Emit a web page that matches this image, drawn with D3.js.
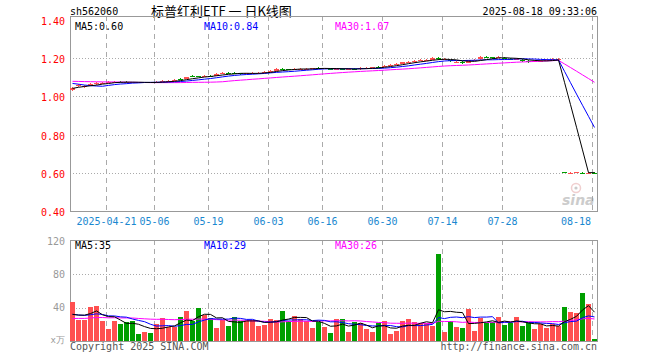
<!DOCTYPE html>
<html><head><meta charset="utf-8">
<script src="https://cdn.jsdelivr.net/npm/d3@7/dist/d3.min.js"></script>
<style>
html,body{margin:0;padding:0;background:#fff;}
svg{display:block;}
text{font-family:"DejaVu Sans Mono",monospace;font-size:10px;}
</style></head><body>
<svg id="c" width="660" height="360"></svg>
<script>
// ---------- data ----------
const dates = [
"2025-04-11","2025-04-14","2025-04-15","2025-04-16","2025-04-17","2025-04-18",
"2025-04-21","2025-04-22","2025-04-23","2025-04-24","2025-04-25",
"2025-04-28","2025-04-29","2025-04-30",
"2025-05-06","2025-05-07","2025-05-08","2025-05-09",
"2025-05-12","2025-05-13","2025-05-14","2025-05-15","2025-05-16",
"2025-05-19","2025-05-20","2025-05-21","2025-05-22","2025-05-23",
"2025-05-26","2025-05-27","2025-05-28","2025-05-29","2025-05-30",
"2025-06-03","2025-06-04","2025-06-05","2025-06-06",
"2025-06-09","2025-06-10","2025-06-11","2025-06-12","2025-06-13",
"2025-06-16","2025-06-17","2025-06-18","2025-06-19","2025-06-20",
"2025-06-23","2025-06-24","2025-06-25","2025-06-26","2025-06-27",
"2025-06-30","2025-07-01","2025-07-02","2025-07-03","2025-07-04",
"2025-07-07","2025-07-08","2025-07-09","2025-07-10","2025-07-11",
"2025-07-14","2025-07-15","2025-07-16","2025-07-17","2025-07-18",
"2025-07-21","2025-07-22","2025-07-23","2025-07-24","2025-07-25",
"2025-07-28","2025-07-29","2025-07-30","2025-07-31","2025-08-01",
"2025-08-04","2025-08-05","2025-08-06","2025-08-07","2025-08-08",
"2025-08-11","2025-08-12","2025-08-13","2025-08-14","2025-08-15",
"2025-08-18"];

const opens = [
1.035,1.052,1.050,1.058,1.065,1.069,1.072,1.075,1.077,1.076,
1.075,1.074,1.072,1.074,1.073,1.077,1.080,1.083,1.092,1.092,
1.107,1.106,1.105,1.107,1.108,1.122,1.124,1.122,1.120,1.118,
1.120,1.121,1.122,1.130,1.134,1.146,1.143,1.140,1.143,1.144,
1.145,1.150,1.145,1.145,1.143,1.145,1.144,1.146,1.142,1.148,
1.150,1.155,1.155,1.160,1.166,1.172,1.178,1.180,1.186,1.189,
1.192,1.202,1.193,1.190,1.178,1.180,1.177,1.188,1.195,1.206,
1.205,1.204,1.200,1.197,1.195,1.192,1.184,1.181,1.184,1.186,
1.193,1.195,0.602,0.600,0.601,0.601,0.600,0.601];

const highs = [
1.050,1.064,1.060,1.068,1.074,1.076,1.079,1.081,1.080,1.079,
1.078,1.077,1.078,1.078,1.079,1.084,1.086,1.090,1.095,1.104,
1.110,1.109,1.112,1.110,1.121,1.130,1.128,1.126,1.123,1.124,
1.126,1.127,1.133,1.137,1.148,1.150,1.146,1.147,1.149,1.150,
1.151,1.154,1.151,1.149,1.149,1.150,1.150,1.149,1.152,1.154,
1.156,1.159,1.164,1.170,1.176,1.182,1.185,1.189,1.194,1.196,
1.204,1.207,1.200,1.193,1.185,1.184,1.191,1.195,1.209,1.210,
1.208,1.211,1.204,1.201,1.201,1.195,1.188,1.188,1.191,1.195,
1.199,1.200,0.604,0.604,0.605,0.604,0.604,0.603];

const lows = [
1.030,1.049,1.046,1.055,1.062,1.066,1.069,1.072,1.072,1.071,
1.070,1.069,1.069,1.068,1.070,1.075,1.078,1.080,1.086,1.089,
1.101,1.100,1.102,1.101,1.105,1.119,1.118,1.116,1.114,1.115,
1.117,1.118,1.120,1.127,1.132,1.140,1.136,1.137,1.140,1.141,
1.142,1.144,1.142,1.138,1.140,1.139,1.141,1.136,1.140,1.145,
1.147,1.149,1.152,1.157,1.163,1.169,1.175,1.177,1.183,1.186,
1.190,1.193,1.189,1.179,1.175,1.172,1.175,1.185,1.192,1.199,
1.196,1.200,1.194,1.190,1.192,1.182,1.176,1.178,1.181,1.183,
1.190,1.192,0.597,0.598,0.599,0.597,0.598,0.598];

const closes = [
1.045,1.060,1.055,1.065,1.070,1.072,1.075,1.077,1.075,1.074,
1.073,1.072,1.074,1.072,1.075,1.080,1.082,1.086,1.090,1.100,
1.105,1.104,1.108,1.105,1.118,1.125,1.122,1.120,1.118,1.120,
1.122,1.123,1.130,1.133,1.145,1.144,1.140,1.142,1.145,1.146,
1.147,1.148,1.147,1.142,1.145,1.143,1.146,1.140,1.148,1.150,
1.152,1.153,1.160,1.167,1.172,1.178,1.180,1.185,1.190,1.191,
1.200,1.197,1.195,1.183,1.180,1.176,1.188,1.190,1.205,1.203,
1.200,1.207,1.198,1.195,1.197,1.186,1.180,1.184,1.187,1.192,
1.195,1.196,0.600,0.601,0.602,0.600,0.601,0.600];

// volume, 万手
const volumes = [
46.5,25.5,25.5,40.5,42.5,23.5,14.5,24.5,20.5,22.5,
24.5,8.5,10.5,9.5,20.5,27.5,16.5,16.5,28.5,36.5,
24.5,39.5,31.5,27.5,15.5,25.5,17.5,28.5,24.5,24.5,
25.5,17.5,19.5,26.5,25.5,36.5,23.5,29.5,26.5,24.5,
15.5,22.5,16.5,9.5,26.5,26.5,10.5,22.5,21.5,14.5,
10.5,21.5,23.5,8.5,12.5,23.5,26.5,22.5,21.5,21.5,
17.5,104.5,10.5,23.5,16.5,15.5,38.5,11.5,27.5,21.5,
22.5,28.5,19.5,21.5,28.5,17.5,21.5,14.5,21,16,
20,18,41,35,34,58,44,2];

// history before the visible window (used for the moving averages)
const prevCloses = [
1.078,1.080,1.082,1.085,1.088,1.086,1.084,1.087,1.090,1.092,
1.089,1.087,1.085,1.083,1.080,1.082,1.084,1.086,1.083,1.079,
1.100,1.100,1.095,1.090,1.085,
1.030,1.035,1.045,1.054];
const prevVolumes = [
22,26,24,28,23,25,21,27,24,26,
25,23,22,27,24,26,23,25,24,25,
34,30,33,31,32,
30,26,31,26.5];

const priceTicks = [1.40,1.20,1.00,0.80,0.60,0.40];
const volTicks = [120,80,40];
const dateTicks = ["2025-04-21","2025-05-06","2025-05-19","2025-06-03","2025-06-16",
                   "2025-06-30","2025-07-14","2025-07-28","2025-08-18"];
const maPeriods = [5,10,30];

const code = "sh562060";
const title = "标普红利ETF 一 日K线图";
const stamp = "2025-08-18 09:33:06";

// ---------- layout ----------
const svg = d3.select("#c");
const L = 70, R = 598;
const mainTop = 16, mainBot = 211;
const volTop = 240, volBot = 341;
const UP = "#ff5050", DN = "#009f00";
const maCol = ["#000000", "#0000ff", "#ff00ff"];
const gridCol = "#aaaaaa", borderCol = "#999999";

const x = d3.scaleBand().domain(dates).range([L, R]).padding(0);
const yP = d3.scaleLinear().domain([0.40, 1.40]).range([211, 20]);
const yV = d3.scaleLinear().domain([0, 120]).range([341, 241]);

function ma(all, n, offset) {
  return dates.map((d, i) => d3.mean(all.slice(i + offset - n + 1, i + offset + 1)));
}
const allC = prevCloses.concat(closes);
const allV = prevVolumes.concat(volumes);
const priceMA = maPeriods.map(n => ma(allC, n, prevCloses.length));
const volMA = maPeriods.map(n => ma(allV, n, prevVolumes.length));

// ---------- header ----------
svg.append("text").attr("x", 70).attr("y", 15).text(code);
svg.append("text").attr("x", 151).attr("y", 16)
  .style("font-family", '"Noto Sans CJK SC","DejaVu Sans",sans-serif').style("font-size", "13px")
  .text(title);
svg.append("text").attr("x", 597).attr("y", 15).attr("text-anchor", "end").text(stamp);

// ---------- grids ----------
const g = svg.append("g");
priceTicks.filter(t => t < 1.39 && t > 0.41).forEach(t => {
  const yy = Math.round(yP(t)) + 0.5;
  g.append("line").attr("x1", L).attr("x2", R).attr("y1", yy).attr("y2", yy)
    .attr("stroke", gridCol).attr("stroke-dasharray", "1,2");
});
volTicks.filter(t => t < 119).forEach(t => {
  const yy = Math.round(yV(t)) + 0.5;
  g.append("line").attr("x1", L).attr("x2", R).attr("y1", yy).attr("y2", yy)
    .attr("stroke", gridCol).attr("stroke-dasharray", "1,2");
});
dateTicks.forEach(d => {
  const xx = x(d) + 0.5;
  g.append("line").attr("x1", xx).attr("x2", xx).attr("y1", mainTop).attr("y2", mainBot)
    .attr("stroke", gridCol).attr("stroke-dasharray", "5,4");
  g.append("line").attr("x1", xx).attr("x2", xx).attr("y1", volTop).attr("y2", volBot)
    .attr("stroke", gridCol).attr("stroke-dasharray", "5,4");
});

// sina watermark
const wm = svg.append("g").attr("opacity", 0.5);
wm.append("circle").attr("cx", 576).attr("cy", 188).attr("r", 4.5)
  .attr("fill", "none").attr("stroke", "#e3a0a0").attr("stroke-width", 1.5);
wm.append("circle").attr("cx", 576).attr("cy", 188).attr("r", 1.6).attr("fill", "#999");
wm.append("text").attr("x", 562).attr("y", 205)
  .style("font-family", '"DejaVu Sans",sans-serif').style("font-size", "14px")
  .style("font-weight", "bold").style("font-style", "italic").attr("fill", "#9a9a9a").text("sina");

// ---------- borders ----------
svg.append("rect").attr("x", L + 0.5).attr("y", mainTop + 0.5).attr("width", R - L - 1).attr("height", mainBot - mainTop)
  .attr("fill", "none").attr("stroke", borderCol);
svg.append("rect").attr("x", L + 0.5).attr("y", volTop + 0.5).attr("width", R - L - 1).attr("height", volBot - volTop)
  .attr("fill", "none").attr("stroke", borderCol);

// ---------- candles ----------
const cg = svg.append("g").attr("shape-rendering", "crispEdges");
dates.forEach((d, i) => {
  const o = opens[i], c = closes[i];
  const col = c >= o ? UP : DN;
  const x0 = x(d);
  const yh = Math.round(yP(highs[i])), yl = Math.round(yP(lows[i]));
  cg.append("rect").attr("x", x0 + 2).attr("width", 1).attr("y", yh).attr("height", Math.max(1, yl - yh)).attr("fill", col);
  const yt = Math.round(yP(Math.max(o, c))), yb = Math.round(yP(Math.min(o, c)));
  cg.append("rect").attr("x", x0).attr("width", 5).attr("y", yt).attr("height", Math.max(1, yb - yt)).attr("fill", col);
  const vy = Math.round(yV(volumes[i]));
  cg.append("rect").attr("x", x0).attr("width", 5).attr("y", vy).attr("height", Math.max(1, volBot - vy)).attr("fill", col);
});

// ---------- MA lines ----------
const lp = d3.line().x((v, i) => x(dates[i]) + 2.5).y(v => yP(v));
const lv = d3.line().x((v, i) => x(dates[i]) + 2.5).y(v => yV(v));
[2, 1, 0].forEach(k => {
  svg.append("path").attr("d", lp(priceMA[k])).attr("fill", "none").attr("stroke", maCol[k]).attr("stroke-width", 1);
  svg.append("path").attr("d", lv(volMA[k])).attr("fill", "none").attr("stroke", maCol[k]).attr("stroke-width", 1);
});

// ---------- axes labels ----------
priceTicks.forEach(t => {
  svg.append("text").attr("x", 65).attr("y", yP(t) + 5).attr("text-anchor", "end")
    .attr("fill", "#ff0000").text(d3.format(".2f")(t));
});
volTicks.forEach(t => {
  svg.append("text").attr("x", 65).attr("y", yV(t) + 3.5).attr("text-anchor", "end")
    .attr("fill", "#999999").text(t);
});
svg.append("text").attr("x", 65).attr("y", 343).attr("text-anchor", "end").attr("fill", "#999999")
  .style("font-size", "9px").text("x万");

dateTicks.forEach((d, i) => {
  const lab = i === 0 ? d : d.slice(5);
  const w = lab.length * 6.02;
  let cx = x(d) + 0.5;
  if (cx + w / 2 > 591) cx = 591 - w / 2;
  svg.append("text").attr("x", cx).attr("y", 225).attr("text-anchor", "middle")
    .attr("fill", "#1a88d0").text(lab);
});

// ---------- legends ----------
const legX = [75, 204, 335];
maPeriods.forEach((n, k) => {
  const last = dates.length - 1;
  svg.append("text").attr("x", legX[k]).attr("y", 29.5).attr("fill", maCol[k])
    .text("MA" + n + ":" + d3.format(".2f")(priceMA[k][last]));
  svg.append("text").attr("x", legX[k]).attr("y", 249).attr("fill", maCol[k])
    .text("MA" + n + ":" + Math.round(volMA[k][last]));
});

// ---------- footer ----------
svg.append("text").attr("x", 70).attr("y", 350).attr("fill", "#555").text("Copyright 2025 SINA.COM");
svg.append("text").attr("x", 597).attr("y", 350).attr("text-anchor", "end").attr("fill", "#555").text("http://finance.sina.com.cn");
</script>
</body></html>
